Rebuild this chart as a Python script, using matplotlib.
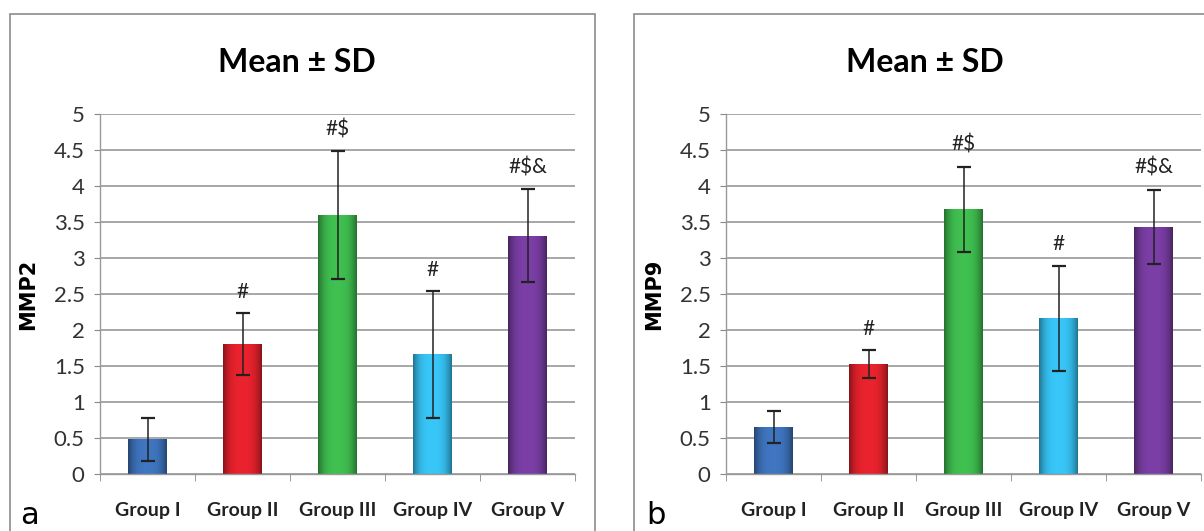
import numpy as np
import matplotlib
matplotlib.use("Agg")
import matplotlib.pyplot as plt
from matplotlib.patches import Rectangle
from matplotlib.colors import to_rgb

groups = ["Group I", "Group II", "Group III", "Group IV", "Group V"]
colors = ["#3b6db3", "#d9202a", "#3bb24a", "#34b8e6", "#723a9a"]

mmp2_mean = [0.48, 1.80, 3.60, 1.66, 3.31]
mmp2_sd = [0.30, 0.43, 0.89, 0.88, 0.65]
mmp2_marks = ["", "#", "#$", "#", "#$&"]

mmp9_mean = [0.65, 1.53, 3.68, 2.16, 3.43]
mmp9_sd = [0.22, 0.19, 0.59, 0.73, 0.52]
mmp9_marks = ["", "#", "#$", "#", "#$&"]

yticks = [0, 0.5, 1, 1.5, 2, 2.5, 3, 3.5, 4, 4.5, 5]
ytick_labels = ["0", "0.5", "1", "1.5", "2", "2.5", "3", "3.5", "4", "4.5", "5"]

narrow = ["Lato", "DejaVu Sans"]


def shade_bar(ax, bar, color):
    # fake the excel 3D look: dark edges, light middle
    base = np.array(to_rgb(color))
    t = np.linspace(-1, 1, 60)
    f = 1.08 - 0.45 * np.abs(t) ** 3
    img = np.clip(base[None, None, :] * f[None, :, None], 0, 1)
    img = np.repeat(img, 2, axis=0)
    x0, y0 = bar.get_x(), bar.get_y()
    w, h = bar.get_width(), bar.get_height()
    im = ax.imshow(img, extent=(x0, x0 + w, y0, y0 + h), aspect="auto",
                   zorder=bar.get_zorder() + 0.1, interpolation="bilinear")
    im.set_clip_path(bar)


def draw_panel(ax, means, sds, marks, ylabel):
    x = np.arange(len(groups))
    bars = ax.bar(x, means, width=0.41, color=colors, zorder=2,
                  edgecolor="none")
    for b, c in zip(bars, colors):
        shade_bar(ax, b, c)
    ax.errorbar(x, means, yerr=sds, fmt="none", ecolor="#222222",
                elinewidth=1.1, capsize=5, capthick=1.6, zorder=4)
    for xi, m, s, t in zip(x, means, sds, marks):
        ax.text(xi, m + s + 0.3, t, ha="center", va="center",
                fontsize=15, family=narrow, color="#222222", zorder=5)

    ax.set_xlim(-0.5, len(groups) - 0.5)
    ax.set_ylim(0, 5)
    ax.set_yticks(yticks)
    ax.set_yticklabels(ytick_labels, family=narrow, fontsize=16,
                       color="#333333")
    ax.set_xticks(x)
    ax.set_xticklabels(groups, family=narrow, fontsize=14,
                       fontweight="bold", color="#222222")
    ax.set_xticks(np.arange(-0.5, len(groups)), minor=True)
    ax.tick_params(axis="x", which="major", length=0, pad=20)
    ax.tick_params(axis="x", which="minor", length=5, color="#888888",
                   direction="out")
    ax.tick_params(axis="y", length=4, color="#888888", pad=7)
    ax.grid(axis="y", color="#a0a0a0", linewidth=1.3, zorder=0)
    ax.set_axisbelow(True)
    for side in ["top", "right"]:
        ax.spines[side].set_visible(False)
    for side in ["left", "bottom"]:
        ax.spines[side].set_color("#999999")
        ax.spines[side].set_linewidth(1.0)
    ax.set_ylabel(ylabel, fontsize=15, fontweight="bold", va="center",
                  family="DejaVu Sans")
    ax.yaxis.set_label_coords(-72 / 475, 0.5)


fig = plt.figure(figsize=(12.04, 5.31), dpi=100)

ax1 = fig.add_axes([100 / 1204, 1 - 474 / 531, 475 / 1204, 360 / 531])
ax2 = fig.add_axes([726 / 1204, 1 - 474 / 531, 475 / 1204, 360 / 531])

draw_panel(ax1, mmp2_mean, mmp2_sd, mmp2_marks, "MMP2")
draw_panel(ax2, mmp9_mean, mmp9_sd, mmp9_marks, "MMP9")

# panel frames
fig.patches.append(Rectangle((10 / 1204, -0.1), 585 / 1204, 1.1 - 14 / 531,
                             transform=fig.transFigure, fill=False,
                             edgecolor="#8c8c8c", linewidth=1.2))
fig.patches.append(Rectangle((634 / 1204, -0.1), 0.5, 1.1 - 14 / 531,
                             transform=fig.transFigure, fill=False,
                             edgecolor="#8c8c8c", linewidth=1.2))

fig.text(297 / 1204, 1 - 62 / 531, "Mean ± SD", ha="center", va="center",
         fontsize=23, fontweight="bold", family=narrow)
fig.text(925 / 1204, 1 - 62 / 531, "Mean ± SD", ha="center", va="center",
         fontsize=23, fontweight="bold", family=narrow)

fig.text(20 / 1204, 1 - 516 / 531, "a", ha="left", va="center",
         fontsize=22, family="DejaVu Sans")
fig.text(646 / 1204, 1 - 516 / 531, "b", ha="left", va="center",
         fontsize=22, family="DejaVu Sans")

fig.savefig("out.png", dpi=100)
